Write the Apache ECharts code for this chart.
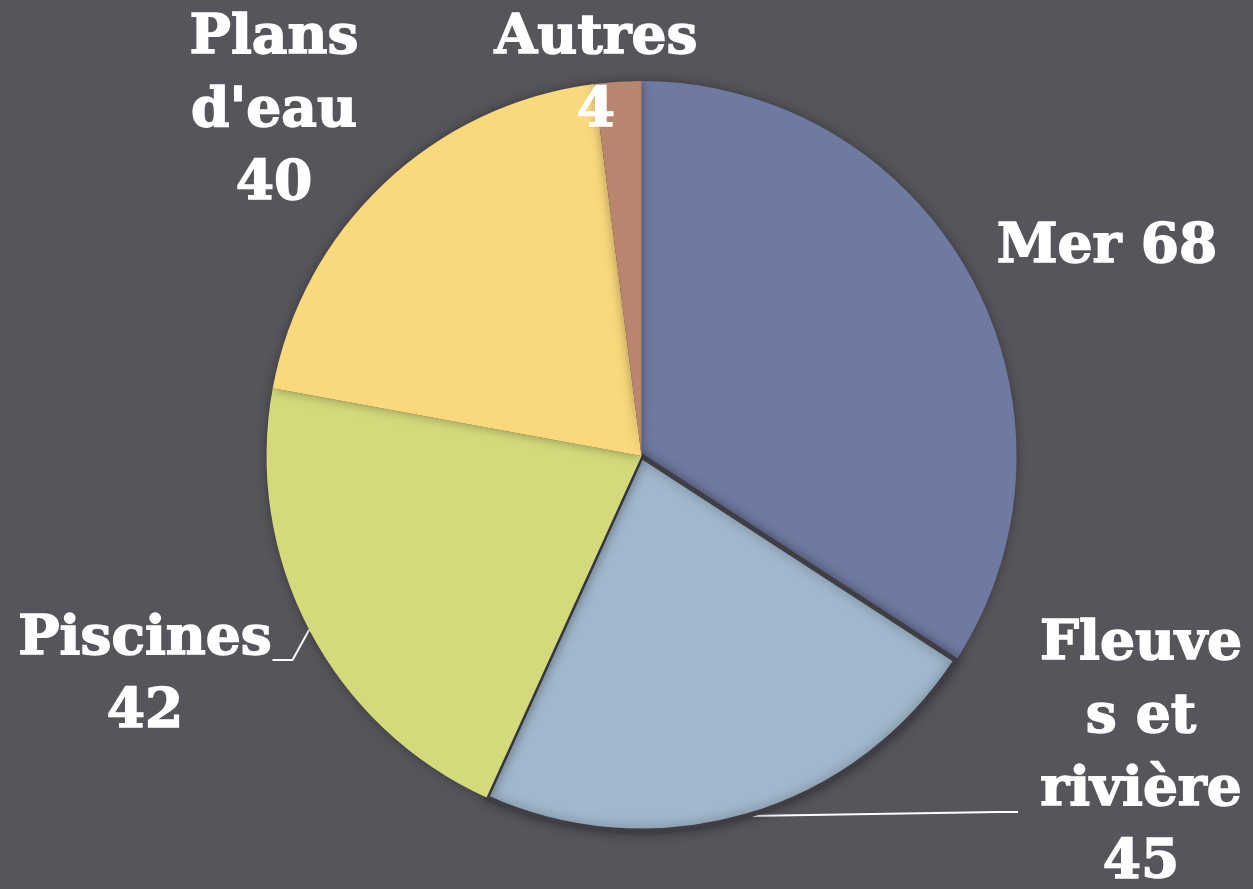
<!DOCTYPE html>
<html>
<head>
<meta charset="utf-8">
<script src="https://cdn.jsdelivr.net/npm/echarts@6/dist/echarts.min.js"></script>
<style>
  html, body { margin: 0; padding: 0; background: #55555c; }
  #chart { width: 1253px; height: 889px; }
</style>
</head>
<body>
<div id="chart"></div>
<script>
const categories = ['Mer', 'Fleuves et rivière', 'Piscines', "Plans d'eau", 'Autres']
const values = [68, 45, 42, 40, 4]
const colors = ['#6f7aa1', '#a1b7cc', '#d4da7c', '#fad87c', '#b8856f']
// how each label wraps, as in the original picture (gap lines move the leader line anchor)
const wrappedNames = [
  'Mer 68',
  'Fleuve\ns et\nrivière\n45\n{gapBottom| }',
  '{gapTop| }\nPiscines\n42',
  "Plans\nd'eau\n40",
  'Autres\n4'
]
// label box centres
const labelSpots = [[1107, 248], [1130, 812], [145, 660], [274, 112], [596, 75]]
const labelPads = [0, [0, 0, 0, 22], 0, 0, 0]

const chart = echarts.init(document.getElementById('chart'))
const option = {
  backgroundColor: '#55555c',
  animation: false,
  series: [
    {
      type: 'pie',
      center: ['51.2%', '51.3%'],
      radius: 375,
      startAngle: 90,
      clockwise: true,
      data: categories.map((name, i) => ({
        name: name,
        value: values[i],
        itemStyle: {
          color: colors[i],
          borderColor: i === 1 ? '#3e3e44' : colors[i],
          borderWidth: i === 1 ? 5 : 0
        },
        label: { padding: labelPads[i] },
        labelLine: { show: i === 1 || i === 2 }
      })),
      itemStyle: {
        shadowBlur: 12,
        shadowColor: 'rgba(0,0,0,0.35)'
      },
      label: {
        show: true,
        position: 'outside',
        formatter: (p) => wrappedNames[p.dataIndex],
        color: '#ffffff',
        fontFamily: 'DejaVu Serif',
        fontWeight: 'bold',
        fontSize: 55,
        lineHeight: 73,
        align: 'center',
        textBorderColor: '#ffffff',
        textBorderWidth: 1.5,
        rich: {
          gapTop: { lineHeight: 33, fontSize: 10 },
          gapBottom: { lineHeight: 115, fontSize: 10 }
        }
      },
      labelLine: {
        show: true,
        length: 20,
        length2: 20,
        lineStyle: { color: '#ffffff', width: 2 }
      },
      labelLayout: (params) => ({
        x: labelSpots[params.dataIndex][0],
        y: labelSpots[params.dataIndex][1],
        align: 'center',
        verticalAlign: 'middle'
      })
    }
  ]
}
chart.setOption(option)
</script>
</body>
</html>
